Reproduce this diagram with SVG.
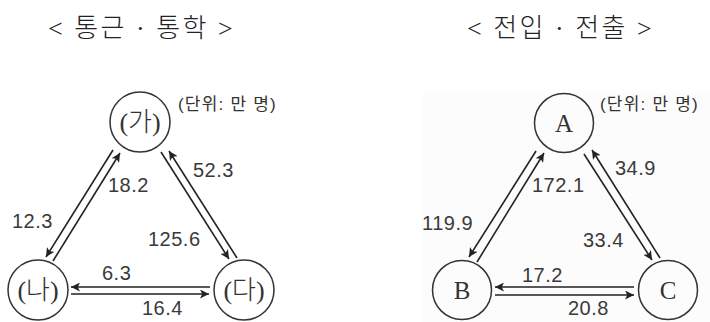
<svg xmlns="http://www.w3.org/2000/svg" width="710" height="322" viewBox="0 0 710 322">
<defs>
<marker id="ah" viewBox="0 0 10 10" refX="10" refY="5" markerWidth="9" markerHeight="9" markerUnits="userSpaceOnUse" orient="auto"><path d="M0,0 L10,5 L0,10 L2.5,5 Z" fill="#222"/></marker>
<style>
.title{font-family:"Liberation Serif","Noto Sans CJK KR",serif;font-size:26px;font-weight:300;fill:#222;letter-spacing:2.5px}
.node circle{fill:none;stroke:#333;stroke-width:1.5}
.lbl{font-family:"Liberation Serif","Noto Sans CJK KR",serif;font-size:26px;font-weight:300;fill:#333;text-anchor:middle}
.lat{font-size:25px}
.num{font-family:"Liberation Sans",Arial,sans-serif;font-size:20px;fill:#3a3a3a;letter-spacing:0.5px}
.unit{font-family:"Liberation Sans","Noto Sans CJK KR",sans-serif;font-size:17px;fill:#333;letter-spacing:1.2px}
.conn line{stroke:#222;stroke-width:1.6;marker-end:url(#ah)}
</style>
</defs>
<rect x="422" y="93" width="288" height="229" fill="#fcfcfc"/>
<text class="title" x="48" y="37">&lt; 통근 · 통학 &gt;</text>
<text class="title" x="467" y="37">&lt; 전입 · 전출 &gt;</text>

<g id="n-ga" class="node"><circle cx="140" cy="122" r="30"/><text class="lbl" x="140" y="131">(가)</text></g>
<g id="n-na" class="node"><circle cx="38" cy="290" r="30"/><text class="lbl" x="38" y="299">(나)</text></g>
<g id="n-da" class="node"><circle cx="244" cy="290" r="30"/><text class="lbl" x="244" y="299">(다)</text></g>
<g id="n-A" class="node"><circle cx="564" cy="123" r="29.5"/><text class="lbl lat" x="564" y="132">A</text></g>
<g id="n-B" class="node"><circle cx="462" cy="290" r="29.5"/><text class="lbl lat" x="462" y="299">B</text></g>
<g id="n-C" class="node"><circle cx="668" cy="290" r="29.5"/><text class="lbl lat" x="668" y="299">C</text></g>

<g id="connectors" class="conn">
<line x1="113" y1="150" x2="46" y2="257"/>
<line x1="53" y1="261" x2="120" y2="153"/>
<line x1="237" y1="258" x2="169" y2="151"/>
<line x1="161" y1="152" x2="229" y2="259"/>
<line x1="210" y1="287" x2="71" y2="287"/>
<line x1="71" y1="294" x2="209" y2="294"/>
<line x1="536" y1="151" x2="469" y2="257"/>
<line x1="477" y1="262" x2="544" y2="153"/>
<line x1="660" y1="258" x2="592" y2="150"/>
<line x1="584" y1="154" x2="652" y2="260"/>
<line x1="634" y1="287" x2="495" y2="287"/>
<line x1="495" y1="295" x2="634" y2="295"/>
</g>

<g id="labels">
<text class="unit" x="178" y="110">(단위: 만 명)</text>
<text class="num" x="193" y="177">52.3</text>
<text class="num" x="108" y="192">18.2</text>
<text class="num" x="12" y="228">12.3</text>
<text class="num" x="148" y="246">125.6</text>
<text class="num" x="102" y="280">6.3</text>
<text class="num" x="142" y="315">16.4</text>
<text class="unit" x="600" y="110">(단위: 만 명)</text>
<text class="num" x="615" y="175">34.9</text>
<text class="num" x="532" y="192">172.1</text>
<text class="num" x="422" y="230">119.9</text>
<text class="num" x="583" y="247">33.4</text>
<text class="num" x="522" y="282">17.2</text>
<text class="num" x="568" y="315">20.8</text>
</g>
</svg>
